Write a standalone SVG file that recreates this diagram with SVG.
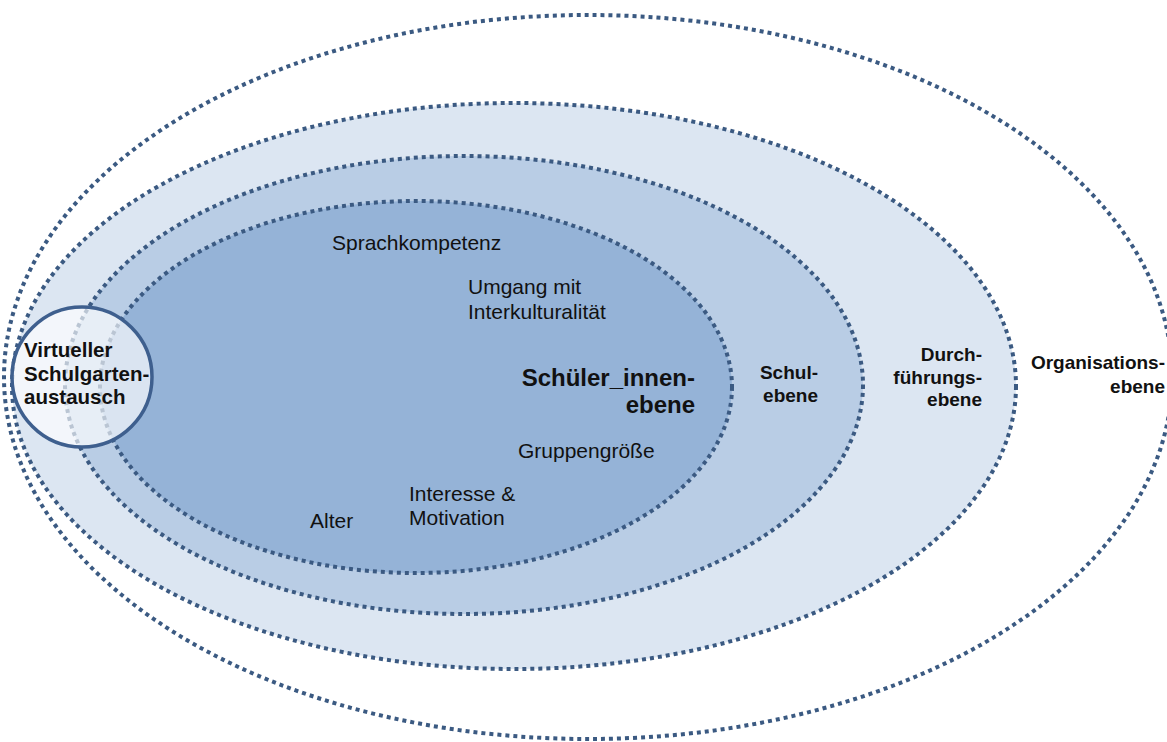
<svg xmlns="http://www.w3.org/2000/svg" width="1167" height="742" viewBox="0 0 1167 742">
  <style>
    .ring { stroke: #3b5a82; stroke-width: 4; stroke-dasharray: 4 4; }
    .lbl { font-family: "Liberation Sans", Arial, sans-serif; fill: #111; }
    .reg { font-size: 21px; }
    .bold { font-size: 19px; font-weight: bold; }
    .big { font-size: 24px; font-weight: bold; }
    .circ { font-size: 20.5px; font-weight: bold; }
    .end { text-anchor: end; }
  </style>
  <rect width="1167" height="742" fill="#ffffff"/>

  <!-- Organisationsebene -->
  <g id="organisationsebene">
    <ellipse class="ring" cx="588" cy="377" rx="584" ry="362" fill="#ffffff"/>
    <text class="lbl bold end" x="1165" y="369">Organisations-</text>
    <text class="lbl bold end" x="1165" y="393">ebene</text>
  </g>

  <!-- Durchführungsebene -->
  <g id="durchfuehrungsebene">
    <ellipse class="ring" cx="514" cy="386" rx="502" ry="283" fill="#dce6f2"/>
    <text class="lbl bold end" x="982" y="361">Durch-</text>
    <text class="lbl bold end" x="982" y="384">führungs-</text>
    <text class="lbl bold end" x="982" y="406">ebene</text>
  </g>

  <!-- Schulebene -->
  <g id="schulebene">
    <ellipse class="ring" cx="464" cy="385" rx="399" ry="229" fill="#b9cde5"/>
    <text class="lbl bold end" x="818" y="379">Schul-</text>
    <text class="lbl bold end" x="818" y="402">ebene</text>
  </g>

  <!-- Schüler_innenebene -->
  <g id="schuelerinnenebene">
    <ellipse class="ring" cx="416" cy="387" rx="316" ry="186" fill="#95b3d7"/>
    <text class="lbl big end" x="695" y="386">Schüler_innen-</text>
    <text class="lbl big end" x="695" y="413">ebene</text>
    <text class="lbl reg" x="332" y="250">Sprachkompetenz</text>
    <text class="lbl reg" x="468" y="294">Umgang mit</text>
    <text class="lbl reg" x="468" y="319">Interkulturalität</text>
    <text class="lbl reg" x="518" y="458">Gruppengröße</text>
    <text class="lbl reg" x="409" y="501">Interesse &amp;</text>
    <text class="lbl reg" x="409" y="525">Motivation</text>
    <text class="lbl reg" x="310" y="528">Alter</text>
  </g>

  <!-- Virtueller Schulgartenaustausch -->
  <g id="schulgartenaustausch">
    <circle cx="82" cy="377" r="70" fill="#ffffff" fill-opacity="0.65" stroke="#3e5f8e" stroke-width="3.5"/>
    <text class="lbl circ" x="24" y="357">Virtueller</text>
    <text class="lbl circ" x="24" y="381">Schulgarten-</text>
    <text class="lbl circ" x="24" y="404">austausch</text>
  </g>
</svg>
